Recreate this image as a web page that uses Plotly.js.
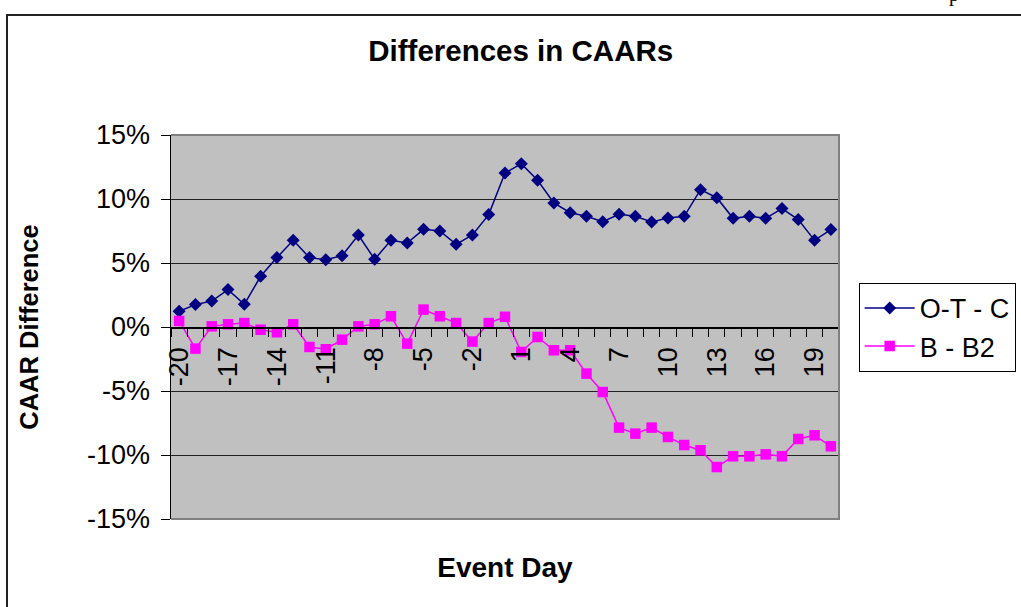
<!DOCTYPE html>
<html>
<head>
<meta charset="utf-8">
<script src="https://cdn.plot.ly/plotly-3.0.1.min.js"></script>
<style>
  html, body { margin: 0; padding: 0; background: #fff; }
  #wrap { position: relative; width: 1021px; height: 607px; overflow: hidden; }
  #chart { position: absolute; left: 0; top: 0; width: 1021px; height: 607px; }
  #frame { position: absolute; left: 6px; top: 14px; width: 1100px; height: 700px;
           border-top: 2px solid #222; border-left: 2px solid #222; pointer-events: none; }
  #pg { position: absolute; left: 949px; top: -16px; font: 20px/20px "Liberation Serif", serif; color: #000; }
</style>
</head>
<body>
<div id="wrap">
  <div id="chart"></div>
  <div id="frame"></div>
  <div id="pg">p</div>
</div>
<script>
const eventDays = [-20,-19,-18,-17,-16,-15,-14,-13,-12,-11,-10,-9,-8,-7,-6,-5,-4,-3,-2,-1,0,
                   1,2,3,4,5,6,7,8,9,10,11,12,13,14,15,16,17,18,19,20];
const otc = [1.23,1.75,2.03,2.92,1.77,3.96,5.42,6.77,5.42,5.26,5.57,7.19,5.29,6.77,6.56,7.63,7.50,6.46,7.19,8.78,12.03,
             12.76,11.46,9.69,8.93,8.65,8.23,8.80,8.65,8.20,8.52,8.65,10.73,10.10,8.49,8.65,8.49,9.25,8.39,6.77,7.61];
const bb2 = [0.47,-1.69,0.05,0.21,0.31,-0.21,-0.41,0.21,-1.56,-1.74,-0.99,0.05,0.21,0.84,-1.30,1.36,0.84,0.31,-1.14,0.31,0.80,
             -1.95,-0.78,-1.82,-1.82,-3.64,-5.08,-7.86,-8.33,-7.86,-8.59,-9.22,-9.63,-10.94,-10.10,-10.10,-9.95,-10.10,-8.75,-8.46,-9.32];
const tickDays = [-20,-17,-14,-11,-8,-5,-2,1,4,7,10,13,16,19];
const yTicks = [-0.15,-0.10,-0.05,0,0.05,0.10,0.15];
const yTickLabels = ['-15%','-10%','-5%','0%','5%','10%','15%'];

const pct = a => a.map(v => v / 100);
const F = 'Arial, "Liberation Sans", sans-serif';

const traces = [
  { x: eventDays, y: pct(otc), name: 'O-T - C', type: 'scatter', mode: 'lines+markers',
    line: { color: '#000080', width: 1.5 },
    marker: { symbol: 'diamond', size: 10, color: '#000080' } },
  { x: eventDays, y: pct(bb2), name: 'B - B2', type: 'scatter', mode: 'lines+markers',
    line: { color: '#ff00ff', width: 1.5 },
    marker: { symbol: 'square', size: 10.5, color: '#ff00ff' } }
];

const layout = {
  width: 1021, height: 607,
  margin: { l: 171, r: 182, t: 135, b: 88, pad: 0, autoexpand: false },
  paper_bgcolor: 'rgba(0,0,0,0)',
  plot_bgcolor: '#c0c0c0',
  font: { family: F, color: '#000', size: 27 },
  showlegend: true,
  title: { text: '<b>Differences in CAARs</b>', font: { family: F, size: 29.5, color: '#000' },
           x: 0.51, xref: 'container', xanchor: 'center', y: 0.916, yref: 'container', yanchor: 'middle' },
  xaxis: {
    type: 'linear', range: [-20.5, 20.5], fixedrange: true,
    anchor: 'free', position: 0.5,
    showline: true, linecolor: '#000', linewidth: 1.5,
    showgrid: false, zeroline: false,
    tickmode: 'array', tickvals: tickDays, ticktext: tickDays.map(String),
    ticks: '', tickangle: -90, ticklabelstandoff: 8,
    tickfont: { family: F, size: 27, color: '#000' },
    minor: { ticks: 'outside', tickmode: 'linear', tick0: -20.5, dtick: 1, ticklen: 8, tickcolor: '#000', tickwidth: 1, showgrid: false },
    title: { text: '<b>Event Day</b>', font: { family: F, size: 28, color: '#000' }, standoff: 172 },
    automargin: false
  },
  yaxis: {
    range: [-0.15, 0.15], fixedrange: true,
    tickmode: 'array', tickvals: yTicks, ticktext: yTickLabels,
    ticks: 'outside', ticklen: 9, tickcolor: '#000', tickwidth: 1, ticklabelstandoff: 5,
    showline: true, linecolor: '#000', linewidth: 1.5,
    showgrid: true, gridcolor: '#222', gridwidth: 1, zeroline: false,
    tickfont: { family: F, size: 27, color: '#000' },
    title: { text: '<b>CAAR Difference</b>', font: { family: F, size: 25.5, color: '#000' }, standoff: 41 },
    automargin: false
  },
  legend: {
    xref: 'container', yref: 'container',
    x: 0.841, xanchor: 'left', y: 0.534, yanchor: 'top',
    bgcolor: '#fff', bordercolor: '#000', borderwidth: 1,
    font: { family: F, size: 27, color: '#000' },
    itemwidth: 50, tracegroupgap: 0
  },
  shapes: [
    { type: 'path', xref: 'paper', yref: 'paper', path: 'M0,1 L1,1 L1,0 L0,0',
      line: { color: '#808080', width: 2 }, layer: 'above' }
  ]
};

Plotly.newPlot('chart', traces, layout, { staticPlot: true, displayModeBar: false });
</script>
</body>
</html>
